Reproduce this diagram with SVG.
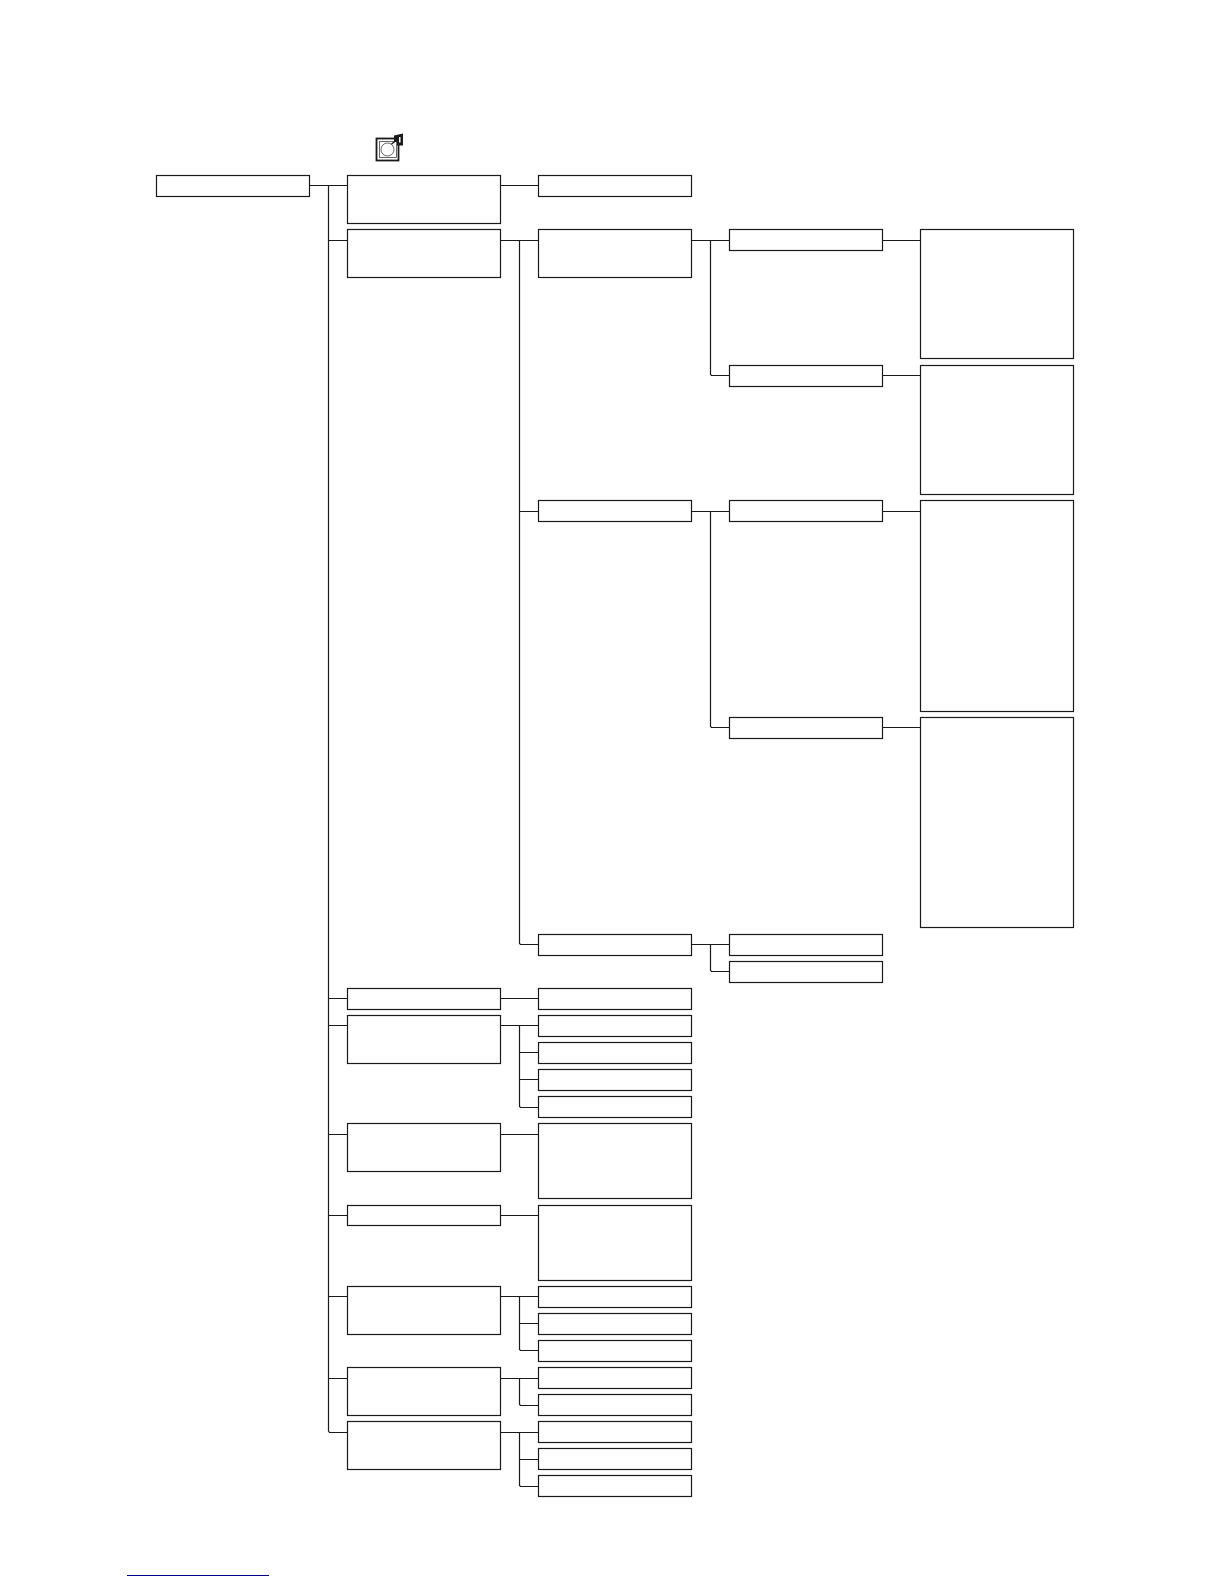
<svg xmlns="http://www.w3.org/2000/svg" width="1224" height="1584" viewBox="0 0 1224 1584">
<style>
.n{fill:#fff;stroke:#1a1a1a;stroke-width:1.200}
.c{fill:none;stroke:#1a1a1a;stroke-width:1.200}
</style>
<rect width="1224" height="1584" fill="#fff"/>
<g id="connectors">
<path class="c" d="M309.500 185.500H347M328.500 185.500V1431L329.500 1432.500H347M328.500 240.500H347M328.500 998.500H347M328.500 1025.500H347M328.500 1134.500H347M328.500 1215.500H347M328.500 1296.500H347M328.500 1378.500H347"/>
<path class="c" d="M500.500 185.500H538M500.500 240.500H538M519.500 240.500V943.500L520.500 944.500H538M519.500 511.500H538"/>
<path class="c" d="M691.500 240.500H729M710.500 240.500V374.500L711.500 375.500H729M691.500 511.500H729M710.500 511.500V726.500L711.500 727.500H729M691.500 944.500H729M710.500 944.500V970.500L711.500 971.500H729"/>
<path class="c" d="M882.500 240.500H920M882.500 375.500H920M882.500 511.500H920M882.500 727.500H920"/>
<path class="c" d="M500.500 998.500H538M500.500 1025.500H538M519.500 1025.500V1106.500L520.500 1107.500H538M519.500 1052.500H538M519.500 1079.500H538M500.500 1134.500H538M500.500 1215.500H538"/>
<path class="c" d="M500.500 1296.500H538M519.500 1296.500V1349.500L520.500 1350.500H538M519.500 1323.500H538M500.500 1378.500H538M519.500 1378.500V1404.500L520.500 1405.500H538M500.500 1432.500H538M519.500 1432.500V1485.500L520.500 1486.500H538M519.500 1459.500H538"/>
</g>
<g id="icon">
<rect x="376.500" y="138.500" width="22" height="22" fill="#fff" stroke="#1a1a1a" stroke-width="1.800"/>
<rect x="379.500" y="141.500" width="17" height="16" fill="#fff" stroke="#444" stroke-width="0.800"/>
<circle cx="387.500" cy="149.500" r="6.500" fill="#fff" stroke="#444" stroke-width="0.800"/>
<path d="M391.500 144L397 140" stroke="#1a1a1a" stroke-width="1.500" fill="none"/>
<path d="M394 135.500L403 133.500V145.500H397V142L394 142Z" fill="#1a1a1a"/>
<rect x="399" y="137" width="1.500" height="5.500" fill="#fff"/>
</g>
<g id="node-root"><rect class="n" x="156.500" y="175.500" width="153" height="21"/></g>
<g id="node-a1"><rect class="n" x="347.500" y="175.500" width="153" height="48"/></g>
<g id="node-a2"><rect class="n" x="347.500" y="229.500" width="153" height="48"/></g>
<g id="node-a3"><rect class="n" x="347.500" y="988.500" width="153" height="21"/></g>
<g id="node-a4"><rect class="n" x="347.500" y="1015.500" width="153" height="48"/></g>
<g id="node-a5"><rect class="n" x="347.500" y="1123.500" width="153" height="48"/></g>
<g id="node-a6"><rect class="n" x="347.500" y="1205.500" width="153" height="20"/></g>
<g id="node-a7"><rect class="n" x="347.500" y="1286.500" width="153" height="48"/></g>
<g id="node-a8"><rect class="n" x="347.500" y="1367.500" width="153" height="48"/></g>
<g id="node-a9"><rect class="n" x="347.500" y="1421.500" width="153" height="48"/></g>
<g id="node-b1"><rect class="n" x="538.500" y="175.500" width="153" height="21"/></g>
<g id="node-b2"><rect class="n" x="538.500" y="229.500" width="153" height="48"/></g>
<g id="node-b3"><rect class="n" x="538.500" y="500.500" width="153" height="21"/></g>
<g id="node-b4"><rect class="n" x="538.500" y="934.500" width="153" height="21"/></g>
<g id="node-b5"><rect class="n" x="538.500" y="988.500" width="153" height="21"/></g>
<g id="node-b6"><rect class="n" x="538.500" y="1015.500" width="153" height="21"/></g>
<g id="node-b7"><rect class="n" x="538.500" y="1042.500" width="153" height="21"/></g>
<g id="node-b8"><rect class="n" x="538.500" y="1069.500" width="153" height="21"/></g>
<g id="node-b9"><rect class="n" x="538.500" y="1096.500" width="153" height="21"/></g>
<g id="node-b10"><rect class="n" x="538.500" y="1123.500" width="153" height="75"/></g>
<g id="node-b11"><rect class="n" x="538.500" y="1205.500" width="153" height="75"/></g>
<g id="node-b12"><rect class="n" x="538.500" y="1286.500" width="153" height="21"/></g>
<g id="node-b13"><rect class="n" x="538.500" y="1313.500" width="153" height="21"/></g>
<g id="node-b14"><rect class="n" x="538.500" y="1340.500" width="153" height="21"/></g>
<g id="node-b15"><rect class="n" x="538.500" y="1367.500" width="153" height="21"/></g>
<g id="node-b16"><rect class="n" x="538.500" y="1394.500" width="153" height="21"/></g>
<g id="node-b17"><rect class="n" x="538.500" y="1421.500" width="153" height="21"/></g>
<g id="node-b18"><rect class="n" x="538.500" y="1448.500" width="153" height="21"/></g>
<g id="node-b19"><rect class="n" x="538.500" y="1475.500" width="153" height="21"/></g>
<g id="node-c1"><rect class="n" x="729.500" y="229.500" width="153" height="21"/></g>
<g id="node-c2"><rect class="n" x="729.500" y="365.500" width="153" height="21"/></g>
<g id="node-c3"><rect class="n" x="729.500" y="500.500" width="153" height="21"/></g>
<g id="node-c4"><rect class="n" x="729.500" y="717.500" width="153" height="21"/></g>
<g id="node-c5"><rect class="n" x="729.500" y="934.500" width="153" height="21"/></g>
<g id="node-c6"><rect class="n" x="729.500" y="961.500" width="153" height="21"/></g>
<g id="node-d1"><rect class="n" x="920.500" y="229.500" width="153" height="129"/></g>
<g id="node-d2"><rect class="n" x="920.500" y="365.500" width="153" height="129"/></g>
<g id="node-d3"><rect class="n" x="920.500" y="500.500" width="153" height="211"/></g>
<g id="node-d4"><rect class="n" x="920.500" y="717.500" width="153" height="210"/></g>
<path id="link-underline" d="M127 1575.500H269" stroke="#00008b" stroke-width="1" fill="none"/>
</svg>
